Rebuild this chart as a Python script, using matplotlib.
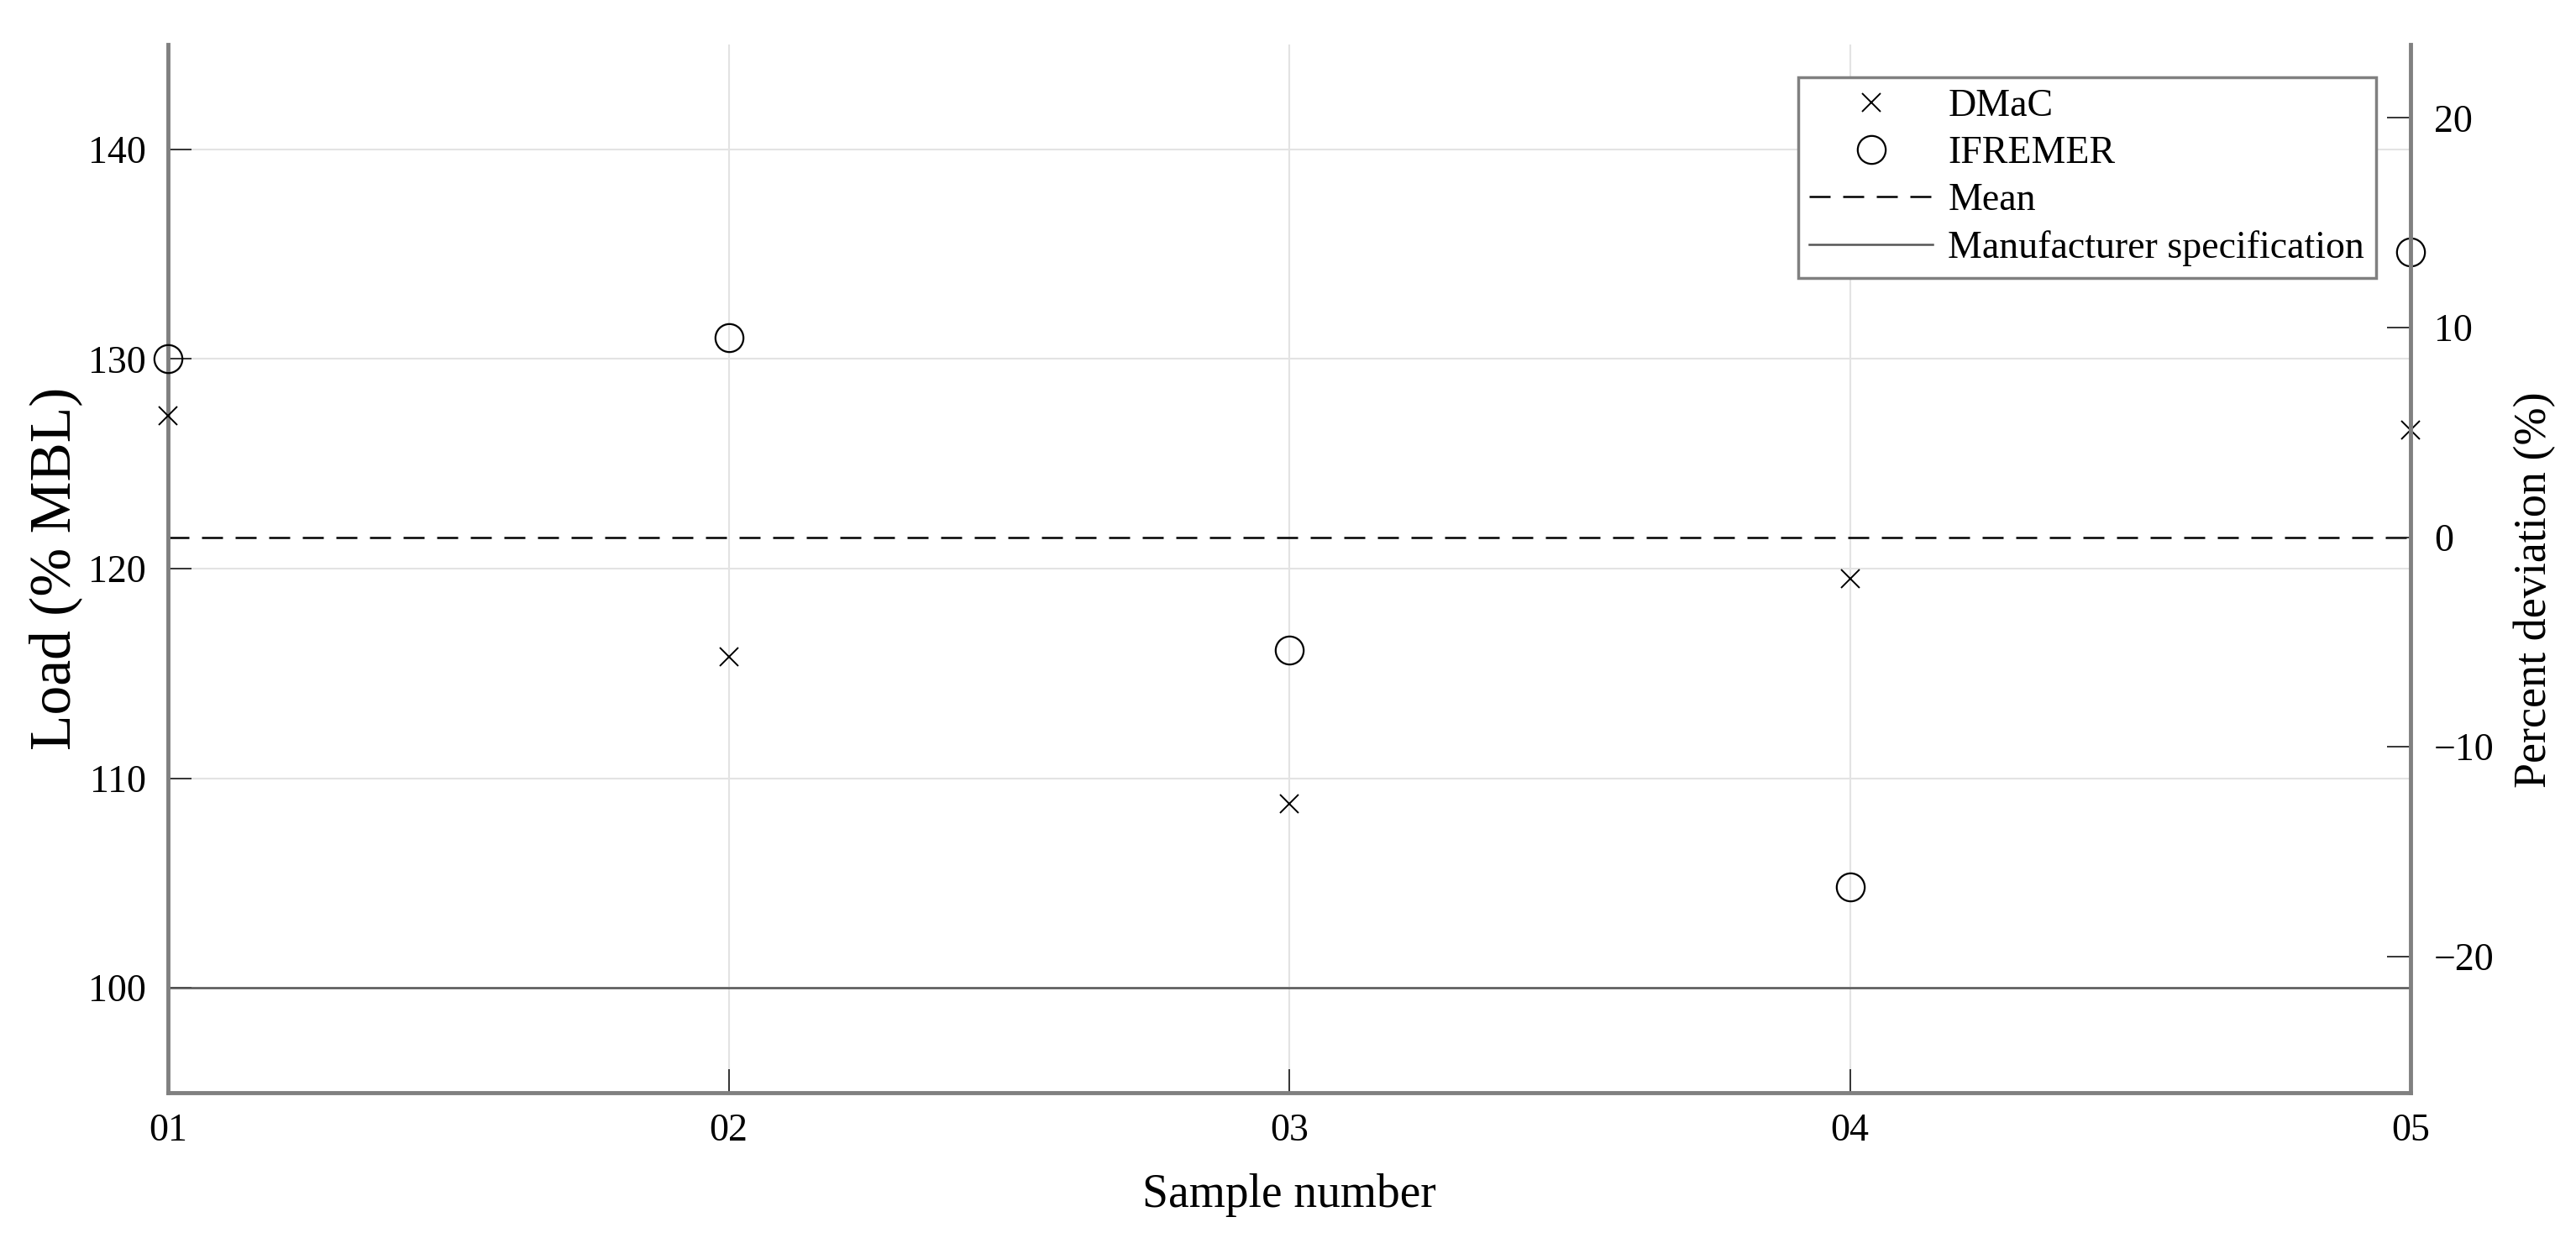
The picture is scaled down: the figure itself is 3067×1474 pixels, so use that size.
import numpy as np
import matplotlib.pyplot as plt

plt.rcParams['font.family'] = ['Liberation Serif', 'DejaVu Serif']

# data
samples = ['01', '02', '03', '04', '05']
dmac = [127.3, 115.8, 108.8, 119.5, 126.6]
ifremer = [130.0, 131.0, 116.1, 104.8, 135.1]
spec = 100
load_lim = (95, 145)
load_ticks = [100, 110, 120, 130, 140]
dev_ticks = [-20, -10, 0, 10, 20]

x = np.arange(len(samples))
mean_load = np.mean(dmac + ifremer)

axis_col = '#808080'

fig = plt.figure(figsize=(30.67, 14.74), dpi=100)
ax = fig.add_axes([0.0652, 0.1174, 0.8706, 0.8466])

ax.plot(x, dmac, ls='none', marker='x', color='black', ms=16, mew=1.4,
        label='DMaC', clip_on=False, zorder=5)
ax.plot(x, ifremer, ls='none', marker='o', mfc='none', mec='black', ms=24, mew=1.6,
        label='IFREMER', clip_on=False, zorder=5)
ax.axhline(mean_load, color='black', lw=1.8, ls=(0, (10, 6)), label='Mean')
ax.axhline(spec, color='#555555', lw=1.8, label='Manufacturer specification')

ax.set_xlim(0, len(samples) - 1)
ax.set_ylim(*load_lim)
ax.set_xticks(x, samples)
ax.set_yticks(load_ticks)
ax.grid(color='#e3e3e3', lw=1.5)
ax.set_axisbelow(True)

for s in ['top', 'right']:
    ax.spines[s].set_visible(False)
for s in ['left', 'bottom']:
    ax.spines[s].set_color(axis_col)
    ax.spines[s].set_linewidth(3.5)
ax.tick_params(direction='in', length=20, width=1.3, color='#262626', labelsize=33)
ax.tick_params(axis='y', pad=19)
ax.tick_params(axis='x', pad=18)

ax2 = ax.twinx()
ax2.set_ylim(load_lim[0] - mean_load, load_lim[1] - mean_load)
ax2.set_yticks(dev_ticks)
for s in ['top', 'left', 'bottom']:
    ax2.spines[s].set_visible(False)
ax2.spines['right'].set_color(axis_col)
ax2.spines['right'].set_linewidth(3.5)
ax2.tick_params(direction='in', length=20, width=1.3, color='#262626', labelsize=33, pad=20)

ax.set_xlabel('Sample number', fontsize=40)
ax.xaxis.set_label_coords(0.5, -0.077)
ax.set_ylabel('Load (% MBL)', fontsize=50)
ax.yaxis.set_label_coords(-0.038, 0.5)
ax2.set_ylabel('Percent deviation (%)', fontsize=39)
ax2.yaxis.set_label_coords(1.046, 0.48)

leg = ax2.legend(*ax.get_legend_handles_labels(), loc='upper right',
                 bbox_to_anchor=(0.9846, 0.969), borderaxespad=0, fontsize=33,
                 handlelength=3.2, handletextpad=0.4, labelspacing=0.3,
                 borderpad=0.3, fancybox=False, framealpha=1)
leg.get_frame().set_edgecolor(axis_col)
leg.get_frame().set_linewidth(2.5)

fig.savefig('out.png', dpi=100)
